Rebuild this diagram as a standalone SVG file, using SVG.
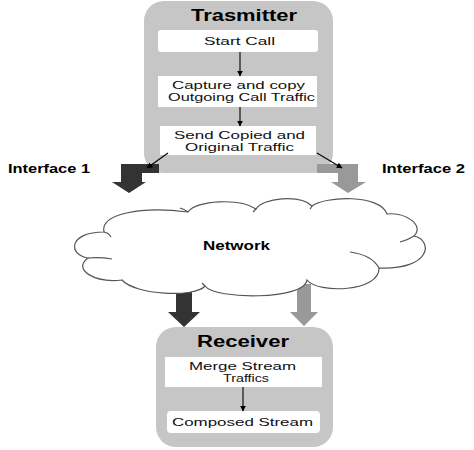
<svg xmlns="http://www.w3.org/2000/svg" width="474" height="450" viewBox="0 0 474 450">
<defs>
<style>
.box{fill:#c6c6c6;}
.inner{fill:#ffffff;}
.t{font-family:"Liberation Sans",Arial,sans-serif;font-size:11.5px;fill:#111;}
.title{font-family:"Liberation Sans",Arial,sans-serif;font-size:16px;font-weight:bold;fill:#000;}
.lbl{font-family:"Liberation Sans",Arial,sans-serif;font-size:12px;font-weight:bold;fill:#000;}
.thin{stroke:#000;stroke-width:1.1;fill:none;marker-end:url(#ah);}
.cloud{fill:#fff;stroke:#555;stroke-width:1.2;}
.tail{fill:none;stroke:#555;stroke-width:1.2;}
</style>
<marker id="ah" viewBox="0 0 10 10" refX="9" refY="5" markerWidth="6" markerHeight="6" orient="auto" markerUnits="userSpaceOnUse">
<path d="M0,0 L10,5 L0,10 z" fill="#000"/>
</marker>
</defs>
<rect width="474" height="450" fill="#fff"/>

<g id="transmitter">
<rect class="box" x="144" y="1" width="189" height="172" rx="20"/>
<text class="title" x="244" y="21" text-anchor="middle" textLength="106" lengthAdjust="spacingAndGlyphs">Trasmitter</text>
<rect class="inner" x="158" y="30" width="160" height="22" rx="3"/>
<text class="t" x="239.5" y="45" text-anchor="middle" textLength="71" lengthAdjust="spacingAndGlyphs">Start Call</text>
<rect class="inner" x="158" y="76" width="159" height="31"/>
<text class="t" x="238.5" y="88.5" text-anchor="middle" textLength="133" lengthAdjust="spacingAndGlyphs">Capture and copy</text>
<text class="t" x="241.5" y="101" text-anchor="middle" textLength="147" lengthAdjust="spacingAndGlyphs">Outgoing Call Traffic</text>
<rect class="inner" x="160" y="126" width="156" height="29"/>
<text class="t" x="239.5" y="139" text-anchor="middle" textLength="131" lengthAdjust="spacingAndGlyphs">Send Copied and</text>
<text class="t" x="239.5" y="151" text-anchor="middle" textLength="109" lengthAdjust="spacingAndGlyphs">Original Traffic</text>
</g>

<g id="receiver">
<rect class="box" x="156" y="327" width="177" height="120" rx="20"/>
<text class="title" x="243" y="346.5" text-anchor="middle" textLength="92" lengthAdjust="spacingAndGlyphs">Receiver</text>
<rect class="inner" x="165" y="357" width="157" height="30"/>
<text class="t" x="242.5" y="370" text-anchor="middle" textLength="107" lengthAdjust="spacingAndGlyphs">Merge Stream</text>
<text class="t" x="246" y="382" text-anchor="middle" textLength="46" lengthAdjust="spacingAndGlyphs">Traffics</text>
<rect class="inner" x="167" y="411" width="153" height="22" rx="4"/>
<text class="t" x="242.5" y="426" text-anchor="middle" textLength="141" lengthAdjust="spacingAndGlyphs">Composed Stream</text>
</g>

<g id="labels">
<text class="lbl" x="8" y="172.5" textLength="82" lengthAdjust="spacingAndGlyphs">Interface 1</text>
<text class="lbl" x="382" y="172.5" textLength="83" lengthAdjust="spacingAndGlyphs">Interface 2</text>
</g>

<g id="connectors">
<line class="thin" x1="240" y1="52" x2="240" y2="76"/>
<line class="thin" x1="240" y1="107" x2="240" y2="126"/>
<line class="thin" x1="243" y1="387" x2="243" y2="411"/>
<polygon id="if1-arrow" points="121,164 159,164 159,173 142,173 142,182 146,182 129,193 112,182 121,182" fill="#333"/>
<polygon id="if2-arrow" points="317,164 358,164 358,182 366,182 348,193 331,182 338,182 338,173 317,173" fill="#999"/>
<line class="thin" x1="168" y1="153" x2="147" y2="168"/>
<line class="thin" x1="317" y1="153" x2="342" y2="168"/>
<polygon id="rx1-arrow" points="176,286 192,286 192,312 200,312 184,327 168,312 176,312" fill="#333"/>
<polygon id="rx2-arrow" points="297,284 311,284 311,312 318,312 304,326 290,312 297,312" fill="#999"/>
</g>

<g id="network">
<path class="cloud" d="M104,232 C100,214 140,206 188,212 C196,200 240,198 256,209 C262,198 300,194 312,206 C325,196 380,194 387,214 C405,212 425,225 414,236 C433,240 432,270 379,268 C380,292 318,294 307,280 C305,300 215,300 205,286 C195,298 135,295 122,280 C95,283 72,270 88,258 C68,255 68,232 104,232 Z"/>
<path class="tail" d="M104,232 Q109,233 111,237"/>
<path class="tail" d="M88,258 Q100,257 112,259"/>
<path class="tail" d="M414,236 Q408,240 400,242"/>
<path class="tail" d="M379,268 Q372,255 350,252"/>
<path class="tail" d="M188,212 Q184,209 180,208"/>
<path class="tail" d="M256,209 Q254,211 253,212"/>
<path class="tail" d="M312,206 Q311,208 310,209"/>
<path class="tail" d="M205,286 Q203,284 202,283"/>
<text class="lbl" x="236.5" y="250" text-anchor="middle" textLength="67" lengthAdjust="spacingAndGlyphs">Network</text>
</g>
</svg>
